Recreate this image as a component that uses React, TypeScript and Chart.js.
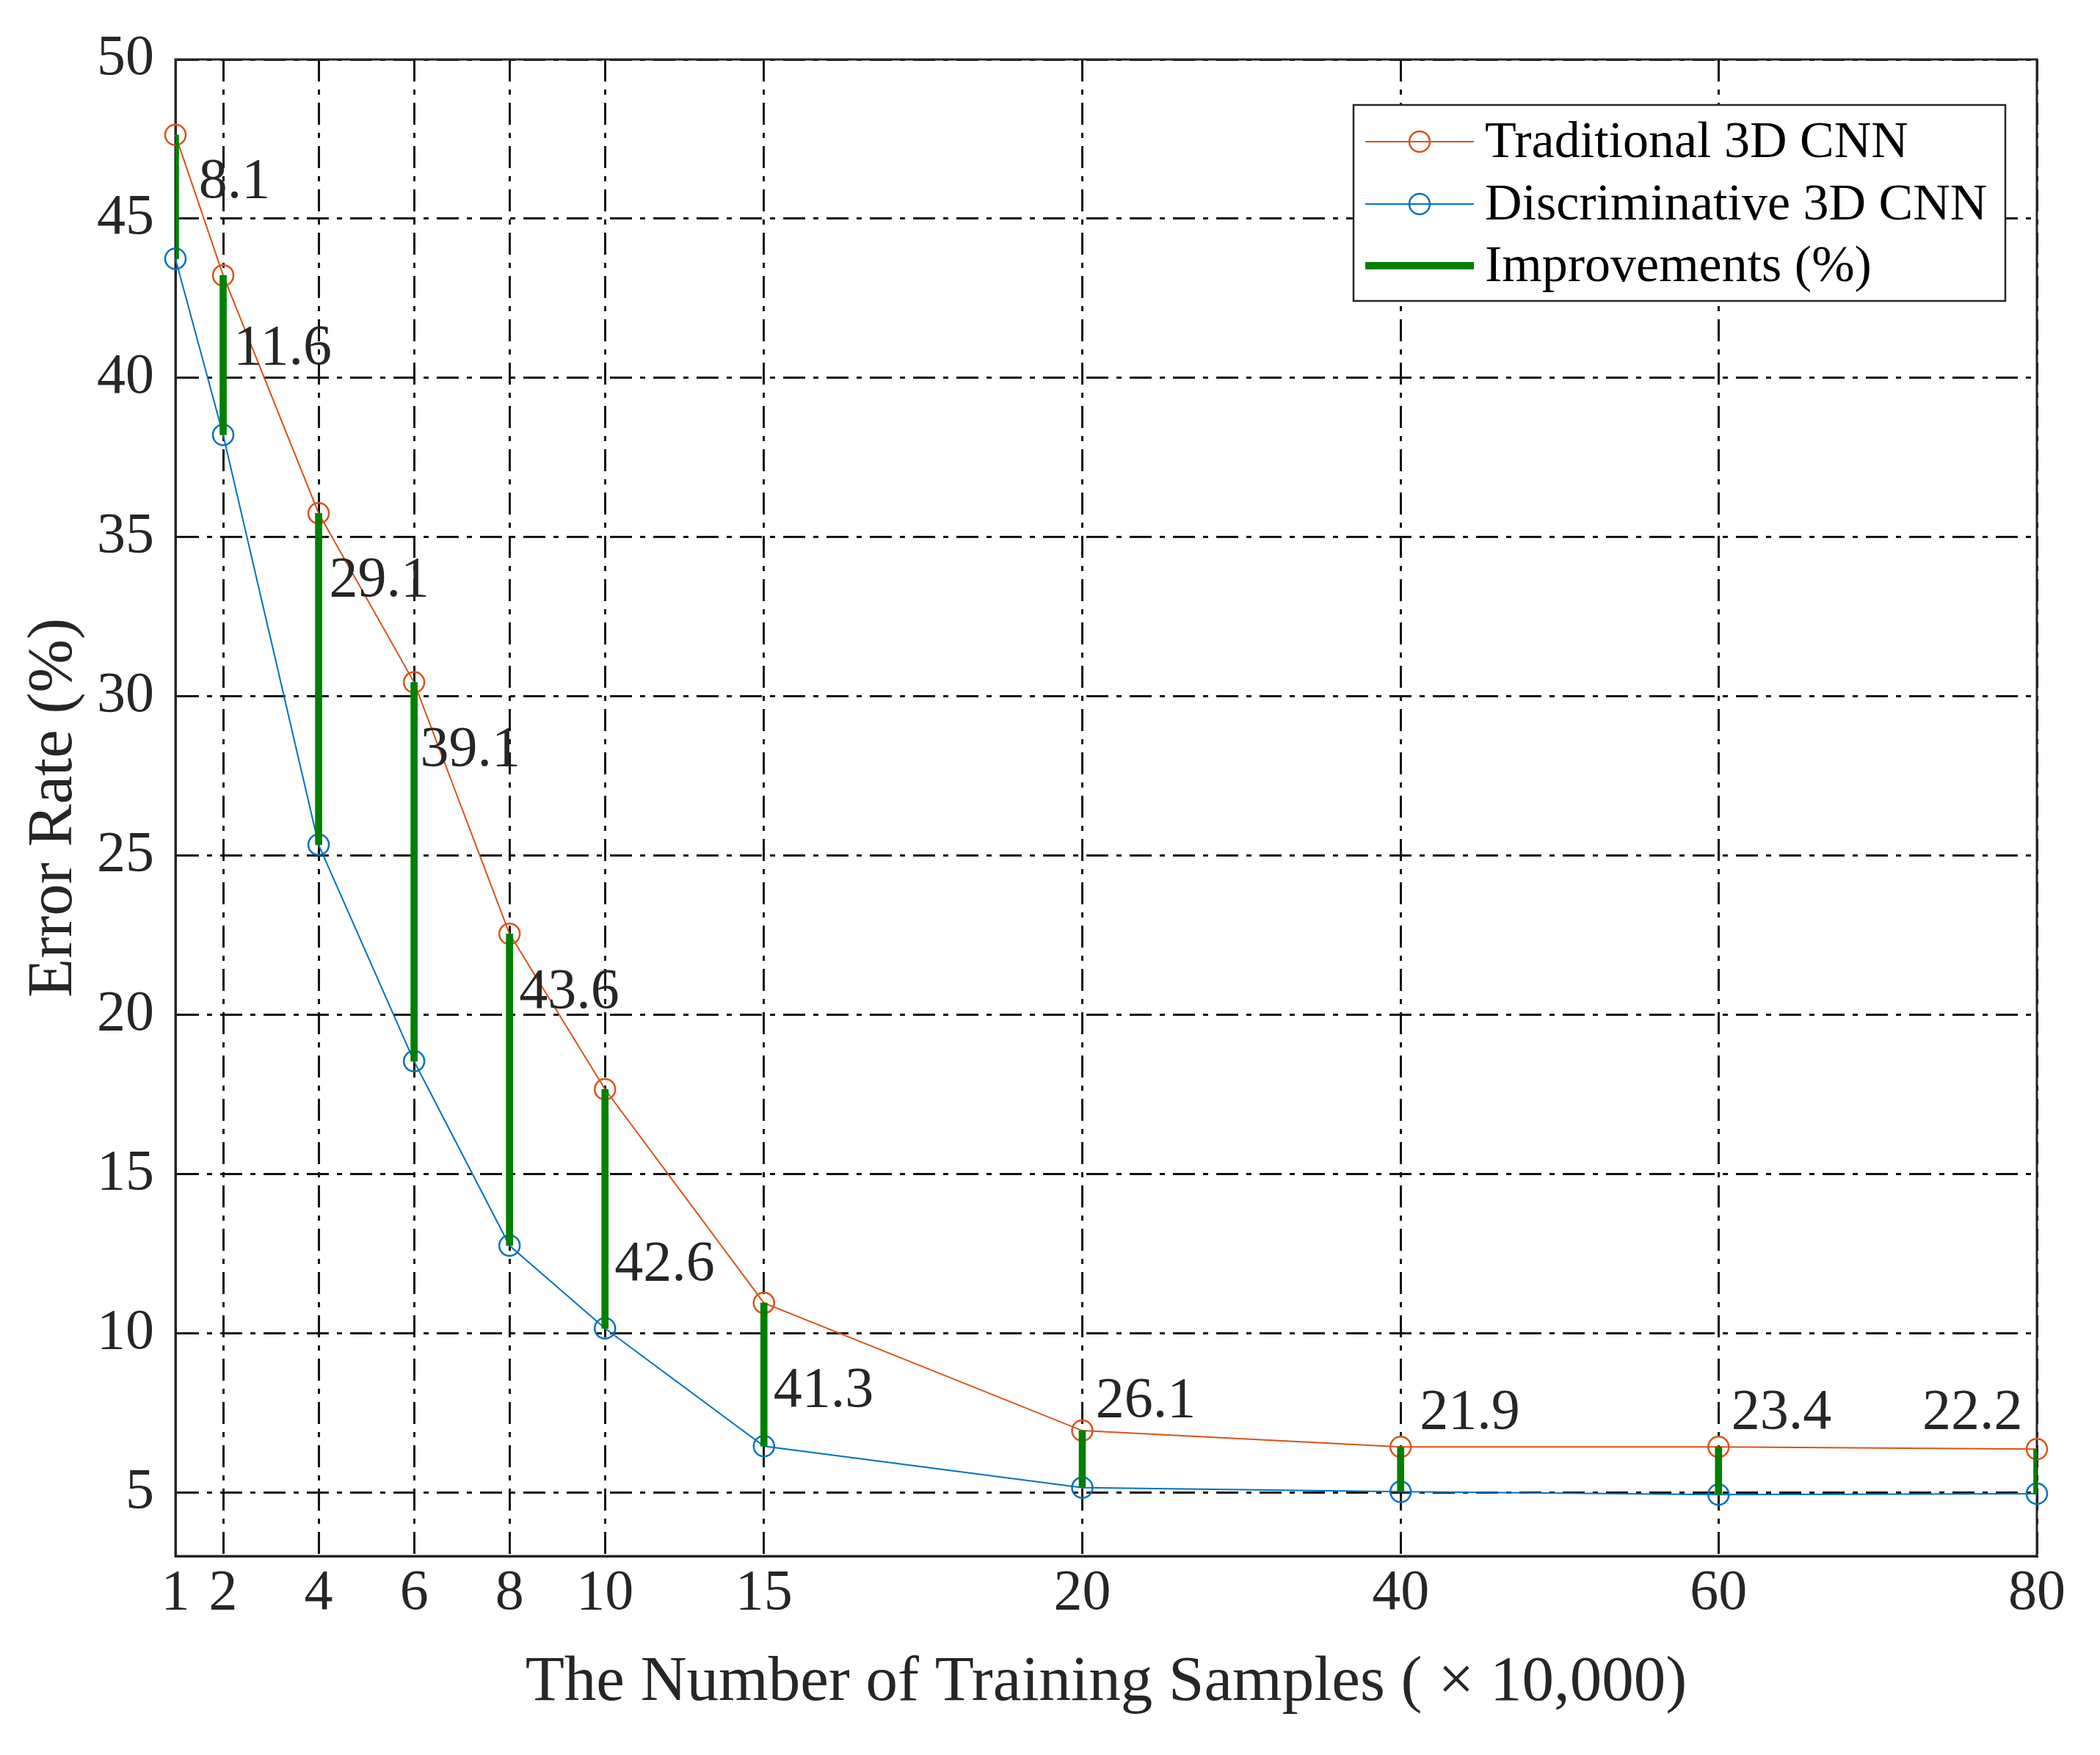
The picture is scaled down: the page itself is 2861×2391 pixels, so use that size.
import React, { useEffect, useRef } from "react";
import { Chart, registerables } from "chart.js";

Chart.register(...registerables);

// training samples (x 10,000) and where MATLAB put them on the axis
const sampleLabels = ["1", "2", "4", "6", "8", "10", "15", "20", "40", "60", "80"];
const samplePos = [1, 2, 4, 6, 8, 10, 13.33, 20, 26.67, 33.33, 40];

// error rates (%)
const traditional = [47.63, 43.22, 35.75, 30.44, 22.54, 17.66, 10.95, 6.94, 6.43, 6.43, 6.36];
const discriminative = [43.74, 38.21, 25.34, 18.54, 12.75, 10.15, 6.45, 5.15, 5.02, 4.93, 4.96];

// improvement text and where each one was placed (data units)
const improvements = [8.1, 11.6, 29.1, 39.1, 43.6, 42.6, 41.3, 26.1, 21.9, 23.4, 22.2];
const labelX = [1.49, 2.22, 4.22, 6.13, 8.2, 10.2, 13.53, 20.28, 27.07, 33.6, 37.6];
const labelY = [46.14, 40.9, 33.63, 28.3, 20.7, 12.14, 8.18, 7.86, 7.49, 7.49, 7.49];

const yTicks = [5, 10, 15, 20, 25, 30, 35, 40, 45, 50];

const FONT = '"Liberation Serif", "Times New Roman", serif';
const INK = "#262626";
const ORANGE = "#D95319";
const BLUE = "#0072BD";
const GREEN = "#008000";

const framePlugin = {
  id: "frame",
  beforeDatasetsDraw(chart: any) {
    const { ctx, chartArea: a } = chart;
    ctx.save();
    ctx.strokeStyle = INK;
    ctx.lineWidth = 3;
    ctx.strokeRect(a.left, a.top, a.right - a.left, a.bottom - a.top);
    ctx.restore();
  },
  afterDatasetsDraw(chart: any) {
    const { ctx, scales } = chart;
    ctx.save();
    ctx.font = `78px ${FONT}`;
    ctx.fillStyle = INK;
    ctx.textAlign = "left";
    ctx.textBaseline = "middle";
    improvements.forEach((v, i) => {
      ctx.fillText(v.toFixed(1), scales.x.getPixelForValue(labelX[i]), scales.y.getPixelForValue(labelY[i]));
    });
    ctx.restore();
  },
  afterDraw(chart: any) {
    const { ctx, chartArea: a } = chart;
    const w = 888;
    const h = 267;
    const left = a.right - 43 - w;
    const top = a.top + 62;
    ctx.save();
    ctx.fillStyle = "#fff";
    ctx.fillRect(left, top, w, h);
    ctx.strokeStyle = INK;
    ctx.lineWidth = 2.5;
    ctx.strokeRect(left, top, w, h);

    const rows = [50, 135, 219];
    chart.data.datasets.forEach((ds: any, i: number) => {
      const y = top + rows[i];
      ctx.strokeStyle = ds.borderColor;
      if (ds.type === "bar") {
        ctx.lineWidth = 10;
        ctx.beginPath();
        ctx.moveTo(left + 16, y);
        ctx.lineTo(left + 164, y);
        ctx.stroke();
      } else {
        ctx.lineWidth = 2;
        ctx.beginPath();
        ctx.moveTo(left + 16, y);
        ctx.lineTo(left + 164, y);
        ctx.stroke();
        ctx.lineWidth = 2.5;
        ctx.beginPath();
        ctx.arc(left + 90, y, 14, 0, Math.PI * 2);
        ctx.stroke();
      }
      ctx.font = `70px ${FONT}`;
      ctx.fillStyle = "#000";
      ctx.textAlign = "left";
      ctx.textBaseline = "middle";
      ctx.fillText(ds.label, left + 179, y + 3);
    });
    ctx.restore();
  },
};

export default function App() {
  const canvasRef = useRef<HTMLCanvasElement | null>(null);

  useEffect(() => {
    if (!canvasRef.current) return;

    const chart = new Chart(canvasRef.current, {
      type: "line",
      data: {
        datasets: [
          {
            type: "line",
            label: "Traditional 3D CNN",
            data: samplePos.map((x, i) => ({ x, y: traditional[i] })),
            borderColor: ORANGE,
            borderWidth: 2,
            pointRadius: 14,
            pointBorderWidth: 2.5,
            pointBackgroundColor: "transparent",
            pointBorderColor: ORANGE,
            tension: 0,
            clip: false,
            order: 2,
          },
          {
            type: "line",
            label: "Discriminative 3D CNN",
            data: samplePos.map((x, i) => ({ x, y: discriminative[i] })),
            borderColor: BLUE,
            borderWidth: 2,
            pointRadius: 14,
            pointBorderWidth: 2.5,
            pointBackgroundColor: "transparent",
            pointBorderColor: BLUE,
            tension: 0,
            clip: false,
            order: 1,
          },
          {
            type: "bar",
            label: "Improvements (%)",
            data: samplePos.map((x, i) => ({ x, y: [discriminative[i], traditional[i]] })) as any,
            backgroundColor: GREEN,
            borderColor: GREEN,
            borderWidth: 0,
            barThickness: 9,
            order: 0,
          },
        ],
      },
      options: {
        responsive: false,
        devicePixelRatio: 1,
        animation: false,
        events: [],
        layout: { padding: { left: 0, top: 81, right: 86, bottom: 0 } },
        plugins: {
          legend: { display: false },
          tooltip: { enabled: false },
        },
        scales: {
          x: {
            type: "linear",
            min: 1,
            max: 40,
            offset: false,
            afterBuildTicks: (s: any) => {
              s.ticks = samplePos.map((v) => ({ value: v }));
            },
            afterFit: (s: any) => {
              s.height = 271;
            },
            ticks: {
              autoSkip: false,
              maxRotation: 0,
              padding: 5,
              color: INK,
              font: { family: FONT, size: 78, lineHeight: 1.2 },
              callback: (_v: any, i: number) => sampleLabels[i],
            },
            grid: {
              offset: false,
              color: "#111",
              lineWidth: 3,
              drawTicks: false,
            },
            border: { color: INK, width: 3, dash: [30, 11, 7, 11] },
            title: {
              display: true,
              text: "The Number of Training Samples ( × 10,000)",
              color: INK,
              font: { family: FONT, size: 87, lineHeight: 1.2 },
              padding: { top: 0, bottom: 46 },
            },
          },
          y: {
            type: "linear",
            min: 3,
            max: 50,
            beginAtZero: false,
            afterBuildTicks: (s: any) => {
              s.ticks = yTicks.map((v) => ({ value: v }));
            },
            afterFit: (s: any) => {
              s.width = 239;
            },
            ticks: {
              padding: 29,
              color: INK,
              font: { family: FONT, size: 78, lineHeight: 1.2 },
            },
            grid: {
              color: "#111",
              lineWidth: 3,
              drawTicks: false,
            },
            border: { color: INK, width: 3, dash: [30, 11, 7, 11] },
            title: {
              display: true,
              text: "Error Rate (%)",
              color: INK,
              font: { family: FONT, size: 87, lineHeight: 1.2 },
              padding: { top: 22, bottom: 0 },
            },
          },
        },
      },
      plugins: [framePlugin],
    });

    return () => {
      chart.destroy();
    };
  }, []);

  return (
    <div style={{ position: "fixed", left: 0, top: 0, width: 2861, height: 2391, background: "#fff" }}>
      <canvas ref={canvasRef} width={2861} height={2391} style={{ display: "block" }}></canvas>
    </div>
  );
}
